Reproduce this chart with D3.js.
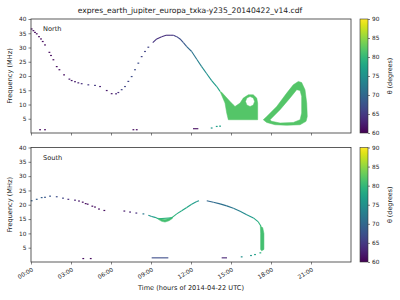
<!DOCTYPE html>
<html><head><meta charset="utf-8">
<script src="https://cdn.jsdelivr.net/npm/d3@7"></script>
<style>body{margin:0;background:#fff}svg{display:block}text{font-family:"DejaVu Sans",sans-serif;fill:#222}</style>
</head><body><svg id="c" width="400" height="300"></svg>
<script>
// ---------- DATA ----------
const title = "expres_earth_jupiter_europa_txka-y235_20140422_v14.cdf";
const xTickHours = [0,3,6,9,12,15,18,21];
const xTickLabels = ["00:00","03:00","06:00","09:00","12:00","15:00","18:00","21:00"];
const yTicks = [5,10,15,20,25,30,35,40];
const cbTicks = [60,65,70,75,80,85,90];
// points: [hour, frequency MHz, theta deg]
const northDots = [
 [0.05,36.5,61],[0.18,35.9,61],[0.3,35.3,61],[0.43,34.8,61],[0.6,33.8,61],[0.75,33.0,61],[0.88,32.1,61],
 [1.05,30.9,61],[1.38,28.3,61],[1.5,27.2,61],[1.68,25.7,61],[1.93,23.3,61],[2.13,22.2,61],[2.48,20.4,61],
 [2.88,18.9,62],[3.05,18.4,62],[3.3,18.0,62],[3.55,17.6,63],[3.8,17.3,64],[4.3,16.9,65],[4.8,16.7,65],
 [5.18,16.3,63],[5.68,14.9,62],[6.05,13.8,62],[6.38,13.75,63],[6.55,14.2,64],[6.8,15.2,66],[7.05,16.3,66],
 [7.3,18.1,66],[7.55,19.8,67],[7.8,22.2,67],[8.05,24.5,67],[8.3,26.8,66],[8.55,28.6,66],[8.8,30.1,66]
];
const northLine = [
 [9.13,31.7,65],[9.43,33.0,64],[9.8,33.8,64],[10.13,34.3,64],[10.43,34.3,64],[10.68,34.3,65],[10.93,33.8,66],
 [11.18,33.0,67],[11.43,31.7,68],[11.68,30.3,69],[12.05,28.6,71],[12.43,25.9,72],[12.8,23.3,74],
 [13.18,20.8,75],[13.55,18.4,76],[13.93,16.3,77],[14.18,14.6,78]
];
const northLow = [
 [0.68,1.15,61],[1.05,1.15,61],[7.68,1.15,61],[7.93,1.15,61],
 [13.55,1.75,76],[13.93,2.3,77],[14.18,2.4,77]
];
const northBar = [[12.15,1.5,61],[12.55,1.5,61]];
const northBlobOuter = [
 [14.18,14.56],[14.55,10.5],[14.68,7.0],[14.8,4.65],[17.0,4.65],[17.0,10.5],[16.93,12.25],[16.67,13.4],
 [16.3,13.4],[15.92,12.25],[15.68,10.5],[15.3,9.3],[15.17,9.9],[14.93,11.06],[14.3,14.3]
];
const northBlobHole = [
 [16.77,11.06],[16.67,12.3],[16.43,12.8],[16.19,12.3],[16.09,11.06],[16.19,9.8],[16.43,9.3],[16.67,9.8]
];
const northLoopOuter = [
 [17.42,4.65],[17.68,5.8],[18.43,9.3],[19.18,14.0],[19.67,16.9],[20.05,18.1],[20.3,17.7],[20.55,15.2],
 [20.68,10.5],[20.72,5.8],[20.63,4.1],[20.18,2.9],[19.18,2.7],[18.3,2.9],[17.68,3.7]
];
const northLoopInner = [
 [17.93,4.65],[18.68,8.2],[19.43,12.3],[19.93,15.2],[20.18,14.9],[20.3,12.8],[20.3,7.0],[20.18,4.65],
 [19.67,3.7],[18.68,3.5],[18.05,4.1]
];
const northBlobTheta = 82;

const southDots = [
 [0.05,21.4,69],[0.43,21.9,69],[0.8,22.5,69],[1.05,22.6,68],[1.43,23.0,68],[1.93,22.8,67],[2.4,22.3,66],
 [2.8,21.9,64],[3.3,21.6,63],[3.6,21.3,62],[3.88,20.9,61],[4.1,20.4,61],[4.25,20.2,61],[4.6,19.5,61],
 [4.8,19.2,61],[5.1,18.5,61],[5.5,18.0,61],[7.0,17.8,62],[7.43,17.45,63],[7.9,17.1,64],[8.43,16.8,72]
];
const southLine1 = [
 [8.8,16.3,75],[9.05,15.9,76],[9.3,15.6,77],[9.55,15.1,79],[10.55,15.4,80],[10.93,16.8,79],
 [11.3,17.9,78],[11.68,19.05,78],[12.05,20.2,77],[12.43,21.1,76],[12.6,21.4,75]
];
const southLine2 = [
 [13.18,21.4,70],[13.68,20.9,70],[14.18,20.3,71],[14.68,19.6,71],[15.18,18.8,72],[15.68,17.7,73],
 [16.18,16.5,75],[16.68,15.4,77],[17.05,14.0,79],[17.25,12.5,80]
];
const southLow = [
 [3.92,1.2,61],[4.48,1.2,61],[15.8,1.8,75],[16.5,2.26,76],[16.8,2.6,77],[17.2,3.2,79]
];
const southBar1 = [[9.05,1.45,67],[10.3,1.45,67]];
const southBar2 = [[14.3,1.45,63],[14.7,1.45,63]];
const southDip = [
 [9.55,15.3],[9.8,15.0],[10.05,14.85],[10.3,15.1],[10.6,15.7],[10.6,15.2],[10.35,14.4],[10.05,13.95],[9.8,14.2],[9.55,14.9]
];
const southWall = [
 [17.2,12.6],[17.38,12.0],[17.47,10.0],[17.47,4.4],[17.3,3.9],[17.22,4.4],[17.22,10.0]
];
const blobTheta = 81;

// ---------- DRAW ----------
const svg = d3.select("#c");
const color = d3.scaleSequential(d3.interpolateViridis).domain([60,90]);
const x = d3.scaleLinear().domain([0,24]).range([31,351]);
const panels = [
 {name:"North", y:d3.scaleLinear().domain([0,40]).range([133,19]), showX:false,
  dots:[northDots,northLow], lines:[northLine,northBar],
  polys:[{rings:[northBlobOuter,northBlobHole],t:northBlobTheta},{rings:[northLoopOuter,northLoopInner],t:northBlobTheta}]},
 {name:"South", y:d3.scaleLinear().domain([0,40]).range([262,147.5]), showX:true,
  dots:[southDots,southLow], lines:[southLine1,southLine2,southBar1,southBar2],
  polys:[{rings:[southDip],t:blobTheta},{rings:[southWall],t:blobTheta}]}
];

svg.append("text").attr("x",190).attr("y",13).attr("text-anchor","middle")
  .style("font-size","7.6px").text(title);

const defs = svg.append("defs");
const grad = defs.append("linearGradient").attr("id","vir").attr("x1",0).attr("y1",1).attr("x2",0).attr("y2",0);
d3.range(0,1.0001,0.05).forEach(t=>grad.append("stop").attr("offset",t).attr("stop-color",d3.interpolateViridis(t)));

panels.forEach(p=>{
  const y = p.y;
  const [y0,y1] = y.range();
  const g = svg.append("g");
  p.polys.forEach(pl=>{
    const d = pl.rings.map(r=>"M"+r.map(q=>x(q[0])+","+y(q[1])).join("L")+"Z").join("");
    g.append("path").attr("d",d).attr("fill",color(pl.t)).attr("fill-rule","evenodd")
      .attr("stroke",color(pl.t)).attr("stroke-width",0.5);
  });
  p.lines.forEach(arr=>{
    for(let i=0;i<arr.length-1;i++){
      g.append("line").attr("x1",x(arr[i][0])).attr("y1",y(arr[i][1]))
        .attr("x2",x(arr[i+1][0])).attr("y2",y(arr[i+1][1]))
        .attr("stroke",color((arr[i][2]+arr[i+1][2])/2)).attr("stroke-width",1.1);
    }
  });
  p.dots.forEach(arr=>{
    g.selectAll(null).data(arr).enter().append("rect")
      .attr("x",d=>x(d[0])-0.9).attr("y",d=>y(d[1])-0.6).attr("width",1.8).attr("height",1.2)
      .attr("fill",d=>color(d[2]));
  });
  svg.append("rect").attr("x",31).attr("y",y1).attr("width",320).attr("height",y0-y1)
    .attr("fill","none").attr("stroke","#333").attr("stroke-width",0.8);
  const ya = svg.append("g").attr("transform","translate(31,0)")
    .call(d3.axisLeft(y).tickValues(yTicks).tickSize(2.5).tickPadding(2));
  ya.select(".domain").remove();
  ya.selectAll("text").style("font-size","5.8px").attr("fill","#222").style("font-family","DejaVu Sans");
  ya.selectAll("line").attr("stroke","#333").attr("stroke-width",0.6);
  const xa = svg.append("g").attr("transform",`translate(0,${y0})`)
    .call(d3.axisBottom(x).tickValues(xTickHours).tickSize(2.5).tickFormat((d,i)=>p.showX?xTickLabels[i]:""));
  xa.select(".domain").remove();
  xa.selectAll("line").attr("stroke","#333").attr("stroke-width",0.6);
  if(p.showX){
    xa.selectAll("text").style("font-size","5.8px").style("font-family","DejaVu Sans").attr("fill","#222")
      .attr("text-anchor","end").attr("y",0)
      .attr("transform","translate(0,5) rotate(-30)").attr("dy","0.75em");
  }
  svg.append("text").attr("x",43).attr("y",y1+12).style("font-size","6.6px").text(p.name);
  svg.append("text").attr("transform",`translate(12,${(y0+y1)/2}) rotate(-90)`)
    .attr("text-anchor","middle").style("font-size","6.6px").text("Frequency (MHz)");
  svg.append("rect").attr("x",360).attr("y",y1).attr("width",8).attr("height",y0-y1).attr("fill","url(#vir)")
    .attr("stroke","#333").attr("stroke-width",0.6);
  const cb = d3.scaleLinear().domain([60,90]).range([y0,y1]);
  const ca = svg.append("g").attr("transform","translate(368,0)")
    .call(d3.axisRight(cb).tickValues(cbTicks).tickSize(2).tickPadding(2));
  ca.select(".domain").remove();
  ca.selectAll("text").style("font-size","5.8px").style("font-family","DejaVu Sans").attr("fill","#222");
  ca.selectAll("line").attr("stroke","#333").attr("stroke-width",0.6);
  svg.append("text").attr("transform",`translate(392,${(y0+y1)/2}) rotate(-90)`)
    .attr("text-anchor","middle").style("font-size","6.4px").text("θ (degrees)");
});

svg.append("text").attr("x",191).attr("y",290).attr("text-anchor","middle")
  .style("font-size","6.6px").text("Time (hours of 2014-04-22 UTC)");
</script></body></html>
